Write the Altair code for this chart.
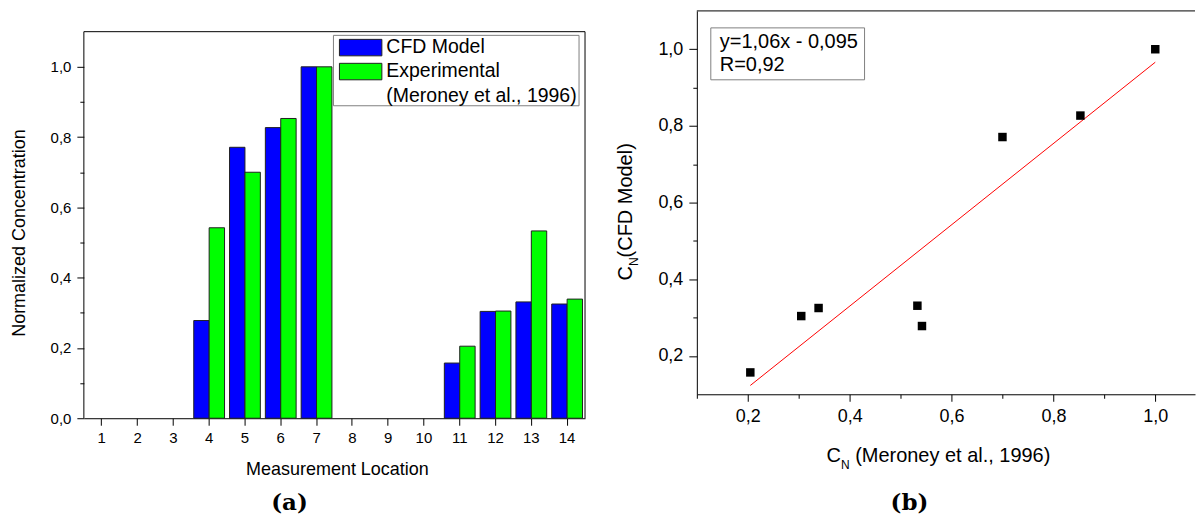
import altair as alt
import pandas as pd

# ---------------- data ----------------
locations = list(range(1, 15))
cfd_model = [0, 0, 0, 0.278, 0.771, 0.827, 1.0, 0, 0, 0, 0.157, 0.304, 0.331, 0.325]
experimental = [0, 0, 0, 0.542, 0.700, 0.853, 1.0, 0, 0, 0, 0.205, 0.305, 0.533, 0.339]
series_names = ["CFD Model", "Experimental"]
series_colors = ["#0000ff", "#00ff00"]
legend_lines = ["CFD Model", "Experimental", "(Meroney et al., 1996)"]
left_y_ticks = [0.0, 0.1, 0.2, 0.3, 0.4, 0.5, 0.6, 0.7, 0.8, 0.9, 1.0]
left_y_max = 1.1
right_x_ticks = [0.1, 0.2, 0.3, 0.4, 0.5, 0.6, 0.7, 0.8, 0.9, 1.0]
right_y_ticks = [0.2, 0.3, 0.4, 0.5, 0.6, 0.7, 0.8, 0.9, 1.0]
fit_lines = ["y=1,06x - 0,095", "R=0,92"]
x_title_left = "Measurement Location"
y_title_left = "Normalized Concentration"
y_title_right = ["C", "N", "(CFD Model)"]
x_title_right = ["C", "N", "(Meroney et al., 1996)"]
captions = ["(a)", "(b)"]

df = pd.DataFrame({"loc": locations, "CFD Model": cfd_model, "Experimental": experimental})
one = pd.DataFrame({"k": [0]})

FONT = "Liberation Sans"
LABEL_EXPR = "round(datum.value*10) % 2 == 0 ? replace(format(datum.value, '.1f'), '.', ',') : ''"


def tick_size(major, minor):
    return {"condition": {"test": "round(datum.value*10) % 2 == 0", "value": major}, "value": minor}


# left plot: 352 px per unit; area starts at same top as right plot (21 px above the frame)
W1, H1 = 502, 408
Y1_TOP = H1 / 352.0
W2, H2 = 499, 384
OFF = 21  # vertical offset of left frame inside its plot area


def txt(text, x, y, size, align="left", angle=0, weight="normal", font=FONT, baseline="alphabetic"):
    return alt.Chart(one).mark_text(
        text=text, align=align, baseline=baseline, fontSize=size, angle=angle,
        fontWeight=weight, font=font, color="black"
    ).encode(x=alt.value(x), y=alt.value(y))


# ---------------- left panel ----------------
yscale1 = alt.Scale(domain=[0, Y1_TOP], nice=False, zero=True)
bars = alt.Chart(df).transform_fold(series_names, as_=["series", "value"]).transform_filter(
    "datum.value > 0"
).mark_bar(stroke="#202020", strokeWidth=1, opacity=1).encode(
    x=alt.X(
        "loc:O",
        scale=alt.Scale(domain=locations, paddingInner=0.14, paddingOuter=0.07),
        axis=alt.Axis(
            title=x_title_left, labelAngle=0, tickSize=7, labelPadding=5, labelFontSize=15,
            titleFontSize=18, titleX=253.5, titleY=56, titleBaseline="alphabetic",
        ),
    ),
    xOffset=alt.XOffset("series:N", scale=alt.Scale(domain=series_names, paddingInner=0, paddingOuter=0)),
    y=alt.Y(
        "value:Q",
        scale=yscale1,
        axis=alt.Axis(
            title=y_title_left, values=left_y_ticks, labelExpr=LABEL_EXPR, tickSize=tick_size(7, 4),
            labelPadding=6, labelFontSize=15, labelOverlap=False, titleFontSize=18, domain=False,
            titleX=-59.5, titleY=201 + OFF, titleBaseline="alphabetic", titleAngle=270,
        ),
    ),
    color=alt.Color("series:N", scale=alt.Scale(domain=series_names, range=series_colors), legend=None),
)

frame_top = alt.Chart(one).mark_rule(color="black", strokeWidth=1).encode(
    x=alt.value(0), x2=alt.value(W1), y=alt.datum(left_y_max)
)
frame_left = alt.Chart(one).mark_rule(color="black", strokeWidth=1).encode(
    x=alt.value(0), y=alt.datum(0), y2=alt.datum(left_y_max)
)
frame_right = alt.Chart(one).mark_rule(color="black", strokeWidth=1).encode(
    x=alt.value(W1), y=alt.datum(0), y2=alt.datum(left_y_max)
)

legend_box = alt.Chart(one).mark_rect(fill="white", stroke="#808080", strokeWidth=1).encode(
    x=alt.value(250), x2=alt.value(496), y=alt.value(3.5 + OFF), y2=alt.value(74 + OFF)
)
sw1 = alt.Chart(one).mark_rect(fill=series_colors[0], stroke="#202020", strokeWidth=1).encode(
    x=alt.value(256), x2=alt.value(298.5), y=alt.value(7.5 + OFF), y2=alt.value(24 + OFF)
)
sw2 = alt.Chart(one).mark_rect(fill=series_colors[1], stroke="#202020", strokeWidth=1).encode(
    x=alt.value(256), x2=alt.value(298.5), y=alt.value(31.5 + OFF), y2=alt.value(48 + OFF)
)
lt1 = txt(legend_lines[0], 303, 21 + OFF, 19.5)
lt2 = txt(legend_lines[1], 303, 45.5 + OFF, 19.5)
lt3 = txt(legend_lines[2], 303, 70 + OFF, 19.5)
cap_a = txt(captions[0], 206, 479 + OFF, 23, align="center", weight="bold", font="DejaVu Serif")

left = alt.layer(
    bars, frame_top, frame_left, frame_right, legend_box, sw1, sw2, lt1, lt2, lt3, cap_a
).properties(width=W1, height=H1)

# ---------------- right panel ----------------
xs = alt.Scale(domain=[0.1, 1.078], nice=False, zero=False)
ys = alt.Scale(domain=[0.1, 1.1], nice=False, zero=False)
x_axis = alt.Axis(
    title=None, values=right_x_ticks, labelExpr=LABEL_EXPR, tickSize=tick_size(7, 4),
    labelPadding=6, labelFontSize=18, labelOverlap=False, labelFlush=False,
)
y_axis = alt.Axis(
    title=None, values=right_y_ticks, labelExpr=LABEL_EXPR, tickSize=tick_size(8, 4),
    labelPadding=6, labelFontSize=18, labelOverlap=False,
)

points = alt.Chart(df).transform_filter("datum['CFD Model'] > 0").mark_point(
    shape="square", filled=True, color="black", size=72, opacity=1
).encode(
    x=alt.X("Experimental:Q", scale=xs, axis=x_axis),
    y=alt.Y("CFD Model:Q", scale=ys, axis=y_axis),
)
fit = alt.Chart(df).transform_filter("datum['CFD Model'] > 0").transform_regression(
    "Experimental", "CFD Model"
).mark_line(color="#ff0000", strokeWidth=1).encode(
    x=alt.X("Experimental:Q", scale=xs, axis=x_axis),
    y=alt.Y("CFD Model:Q", scale=ys, axis=y_axis),
)
top_rule = alt.Chart(one).mark_rule(color="black", strokeWidth=1).encode(
    x=alt.value(0), x2=alt.value(W2), y=alt.value(0)
)
ann_box = alt.Chart(one).mark_rect(fill="white", stroke="#808080", strokeWidth=1).encode(
    x=alt.value(14), x2=alt.value(168), y=alt.value(17), y2=alt.value(69)
)
ann1 = txt(fit_lines[0], 23, 37, 20)
ann2 = txt(fit_lines[1], 23, 60, 20)

yt1 = txt(y_title_right[0], -65, 270, 20, angle=270)
yt2 = txt(y_title_right[1], -59, 255.6, 12, angle=270)
yt3 = txt(y_title_right[2], -65, 246.9, 20, angle=270)
xt1 = txt(x_title_right[0], 130, 452, 20)
xt2 = txt(x_title_right[1], 144.4, 459, 12)
xt3 = txt(x_title_right[2], 158.6, 452, 20)
cap_b = txt(captions[1], 213, 500, 23, align="center", weight="bold", font="DejaVu Serif")

right = alt.layer(
    fit, points, top_rule, ann_box, ann1, ann2, yt1, yt2, yt3, xt1, xt2, xt3, cap_b
).properties(width=W2, height=H2)

chart = alt.hconcat(left, right, spacing=29).properties(
    padding={"left": 10, "top": 9.5, "right": 0, "bottom": 0}
).configure_view(stroke=None).configure_axis(
    grid=False, domainColor="black", domainWidth=1, tickColor="black", tickWidth=1,
    labelColor="black", titleColor="black", labelFont=FONT, titleFont=FONT,
    titleFontWeight="normal",
)

chart.save("out.html", embed_options={"renderer": "svg", "actions": False})
